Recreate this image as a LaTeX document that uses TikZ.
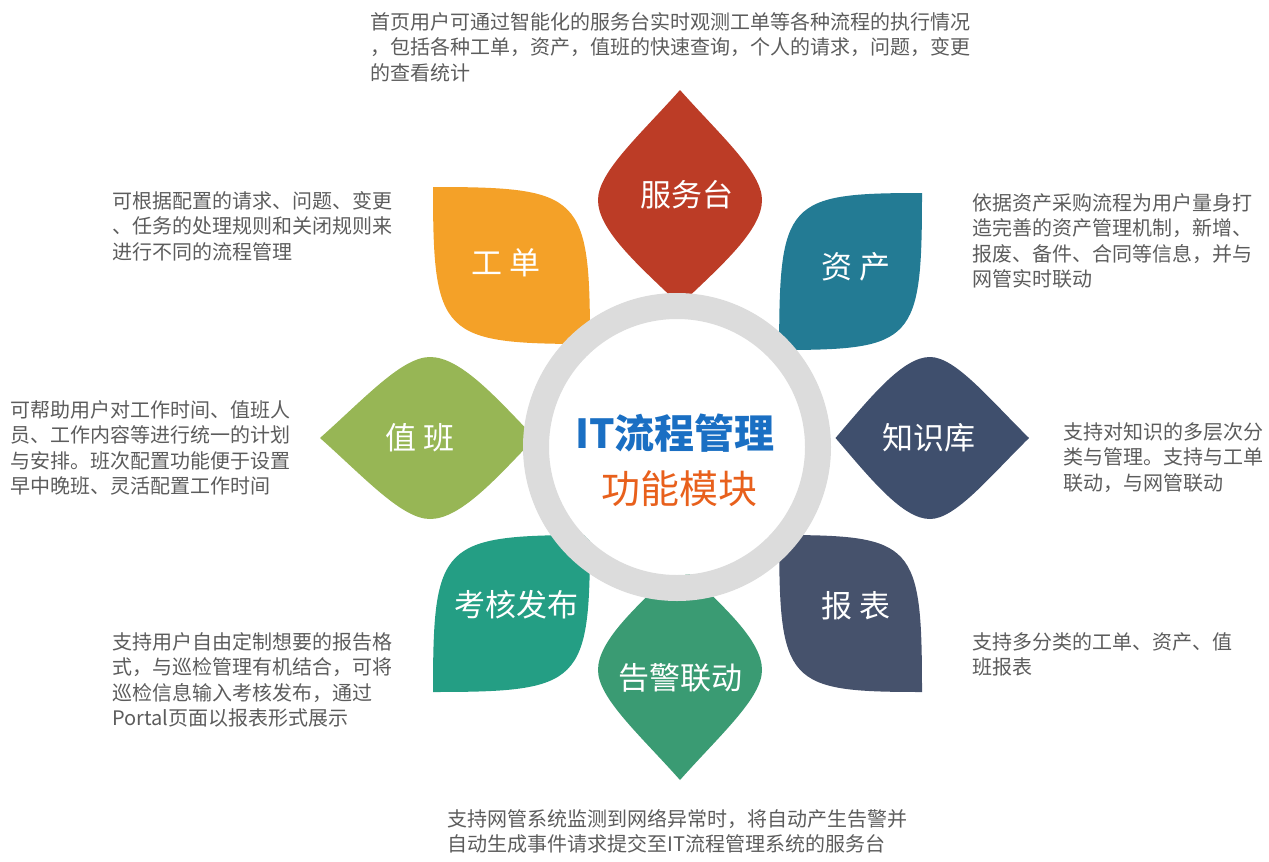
\documentclass[tikz,border=0pt]{standalone}
\usepackage{fontspec}
\setmainfont{Noto Sans CJK SC}
\usepackage{xcolor}
\usepackage{tikz}

\definecolor{fwred}{HTML}{BC3C26}
\definecolor{gdorange}{HTML}{F4A128}
\definecolor{zcteal}{HTML}{237B94}
\definecolor{zbgreen}{HTML}{97B655}
\definecolor{zsslate}{HTML}{3F4F6D}
\definecolor{khgreen}{HTML}{249E84}
\definecolor{gjgreen}{HTML}{3A9B73}
\definecolor{bbslate}{HTML}{46526C}
\definecolor{ringgray}{HTML}{DCDCDC}
\definecolor{titleblue}{HTML}{1A6FC3}
\definecolor{titleorange}{HTML}{E8601C}
\definecolor{descgray}{HTML}{5C5C5C}

\begin{document}
\begin{tikzpicture}[
    % one unit = one pixel of the 1269x862 layout, y going down
    x=1pt, y=-1pt,
    petal/.style={draw=none},
    petaltext/.style={text=white, font=\fontsize{31}{34}\selectfont, inner sep=0pt},
    desc/.style={anchor=north west, align=left, inner sep=0pt, text=descgray,
                 font=\fontsize{20}{25.5}\selectfont}
]
\useasboundingbox (0,0) rectangle (1269,862);

%% ── Diagonal petals (outer corner sharp) ────────────────────
\fill[petal, fill=gdorange, shift={(433,187)}]
    (0,0) .. controls (149,0) and (157,8) .. (157,157)
          .. controls (8,157) and (0,149) .. cycle;
\fill[petal, fill=zcteal, shift={(922,193)}, xscale=-0.91]
    (0,0) .. controls (149,0) and (157,8) .. (157,157)
          .. controls (8,157) and (0,149) .. cycle;
\fill[petal, fill=khgreen, shift={(433,692)}, yscale=-1]
    (0,0) .. controls (149,0) and (157,8) .. (157,157)
          .. controls (8,157) and (0,149) .. cycle;
\fill[petal, fill=bbslate, shift={(922,692)}, xscale=-0.91, yscale=-1]
    (0,0) .. controls (149,0) and (157,8) .. (157,157)
          .. controls (8,157) and (0,149) .. cycle;

%% ── Vertical petals ─────────────────────────────────────────
\fill[petal, fill=fwred, shift={(680,200)}]
    (0,-110) .. controls (-40,-65) and (-82,-28) .. (-82,0)
             .. controls (-82,30) and (-42,65) .. (0,105)
             .. controls (42,65) and (82,30) .. (82,0)
             .. controls (82,-28) and (40,-65) .. cycle;
\fill[petal, fill=gjgreen, shift={(680,670)}, yscale=-1]
    (0,-110) .. controls (-40,-65) and (-82,-28) .. (-82,0)
             .. controls (-82,30) and (-42,65) .. (0,105)
             .. controls (42,65) and (82,30) .. (82,0)
             .. controls (82,-28) and (40,-65) .. cycle;

%% ── Horizontal petals ───────────────────────────────────────
\fill[petal, fill=zbgreen, shift={(430,438)}]
    (-110,0) .. controls (-65,-40) and (-28,-81) .. (0,-81)
             .. controls (30,-81) and (65,-42) .. (105,0)
             .. controls (65,42) and (30,81) .. (0,81)
             .. controls (-28,81) and (-65,40) .. cycle;
\fill[petal, fill=zsslate, shift={(930,438)}, xscale=-0.9]
    (-110,0) .. controls (-65,-40) and (-28,-81) .. (0,-81)
             .. controls (30,-81) and (65,-42) .. (105,0)
             .. controls (65,42) and (30,81) .. (0,81)
             .. controls (-28,81) and (-65,40) .. cycle;

%% ── Centre ring ─────────────────────────────────────────────
\fill[white] (677,447) circle (128);
\draw[ringgray, line width=26pt] (677,447) circle (141);

\node (title) [text=titleblue, font=\fontsize{40}{42}\selectfont\bfseries, inner sep=0pt]
    at (675,433) {IT流程管理};
\node (subtitle) [text=titleorange, font=\fontsize{39}{42}\selectfont, inner sep=0pt]
    at (679,489) {功能模块};

%% ── Petal labels ────────────────────────────────────────────
\node (fwt) [petaltext] at (687,195) {服务台};
\node (gd)  [petaltext] at (506,263) {工 单};
\node (zc)  [petaltext] at (856,267) {资 产};
\node (zb)  [petaltext] at (420,438) {值 班};
\node (zsk) [petaltext] at (929,438) {知识库};
\node (kh)  [petaltext] at (516,605) {考核发布};
\node (gj)  [petaltext] at (680,678) {告警联动};
\node (bb)  [petaltext] at (856,606) {报 表};

%% ── Descriptions ────────────────────────────────────────────
\node (fwtdesc) [desc] at (370,12) {首页用户可通过智能化的服务台实时观测工单等各种流程的执行情况\\
    ，包括各种工单，资产，值班的快速查询，个人的请求，问题，变更\\
    的查看统计};
\node (gddesc) [desc] at (112,191) {可根据配置的请求、问题、变更\\
    、任务的处理规则和关闭规则来\\
    进行不同的流程管理};
\node (zcdesc) [desc] at (972,193) {依据资产采购流程为用户量身打\\
    造完善的资产管理机制，新增、\\
    报废、备件、合同等信息，并与\\
    网管实时联动};
\node (zbdesc) [desc] at (10,400) {可帮助用户对工作时间、值班人\\
    员、工作内容等进行统一的计划\\
    与安排。班次配置功能便于设置\\
    早中晚班、灵活配置工作时间};
\node (zskdesc) [desc] at (1063,422) {支持对知识的多层次分\\
    类与管理。支持与工单\\
    联动，与网管联动};
\node (khdesc) [desc] at (112,632) {支持用户自由定制想要的报告格\\
    式，与巡检管理有机结合，可将\\
    巡检信息输入考核发布，通过\\
    Portal页面以报表形式展示};
\node (bbdesc) [desc] at (972,632) {支持多分类的工单、资产、值\\
    班报表};
\node (gjdesc) [desc] at (447,809) {支持网管系统监测到网络异常时，将自动产生告警并\\
    自动生成事件请求提交至IT流程管理系统的服务台};

\end{tikzpicture}
\end{document}
